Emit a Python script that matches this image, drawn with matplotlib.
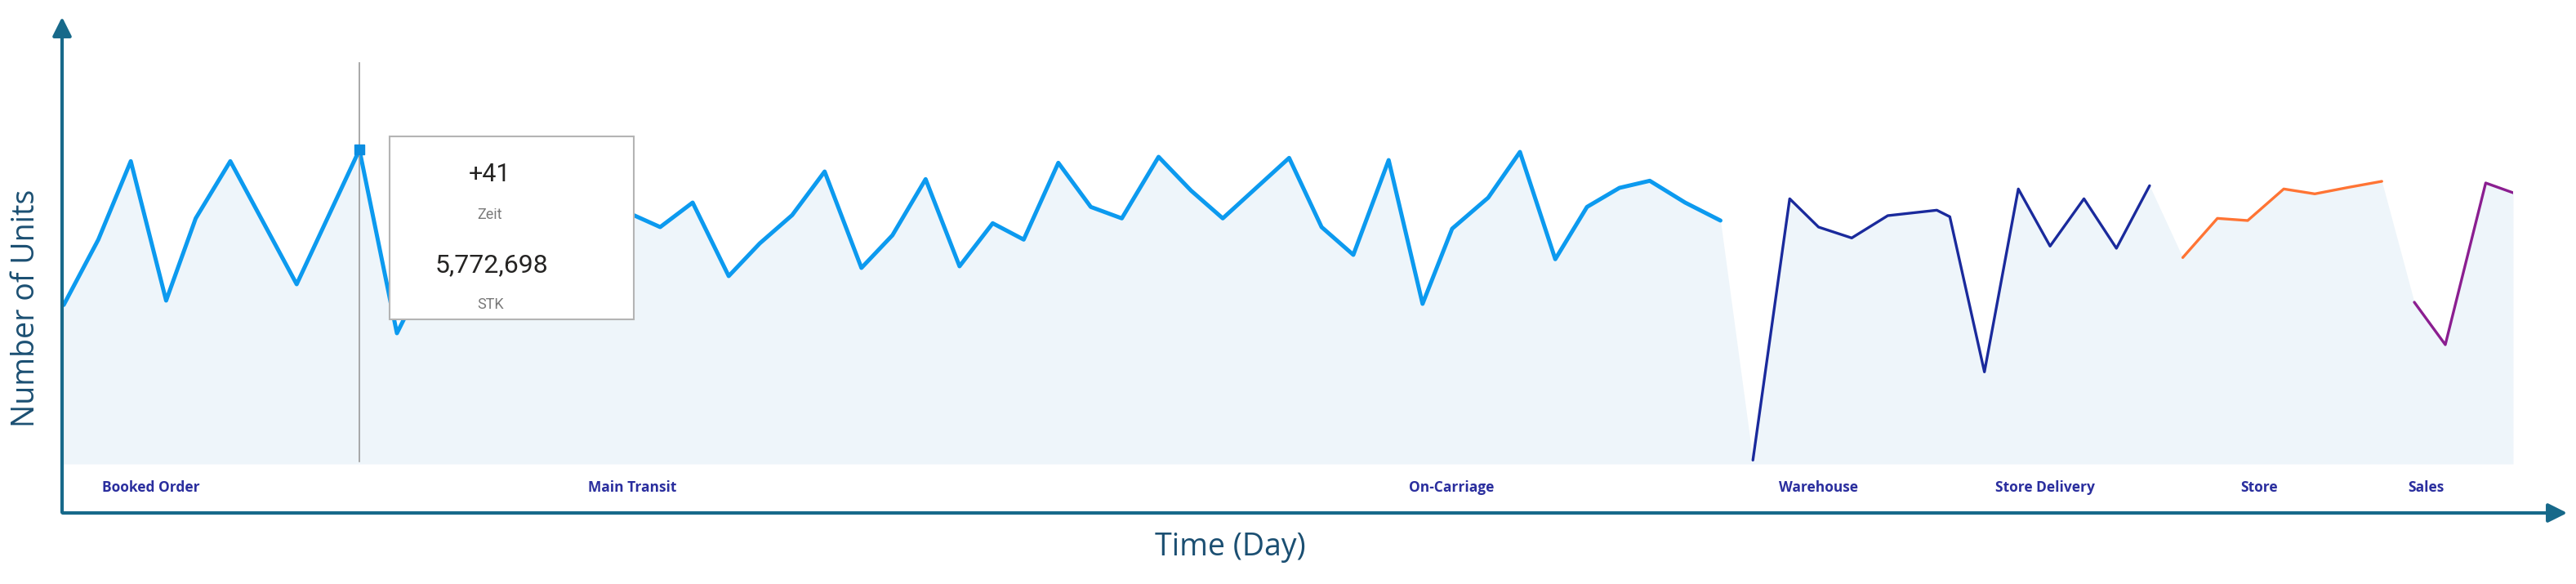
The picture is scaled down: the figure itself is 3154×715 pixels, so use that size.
import numpy as np
import matplotlib.pyplot as plt

# days / units (millions) per stage
transit_days = [0, 4.8, 9.3, 14.2, 18.3, 23.1, 32.3, 41.0, 46.2, 52.3, 61.4, 70.4,
                79.0, 82.7, 87.2, 92.2, 96.5, 101.0, 105.5, 110.6, 114.9, 119.5,
                124.2, 128.8, 133.1, 137.9, 142.4, 146.7, 151.8, 156.3, 160.7,
                169.9, 174.4, 178.8, 183.7, 188.4, 192.5, 197.5, 201.9, 206.8,
                211.2, 215.7, 219.9, 224.8, 229.7]
transit_vals = [2.92, 4.12, 5.56, 3.00, 4.51, 5.56, 3.30, 5.77, 2.40, 4.02, 4.77, 4.17,
                4.57, 4.35, 4.80, 3.45, 4.05, 4.57, 5.37, 3.60, 4.20, 5.23,
                3.63, 4.42, 4.12, 5.53, 4.72, 4.51, 5.64, 5.02, 4.51,
                5.62, 4.35, 3.84, 5.58, 2.94, 4.32, 4.89, 5.73, 3.76,
                4.72, 5.07, 5.20, 4.80, 4.47]

warehouse_days = [234.2, 239.3, 243.3, 247.9, 252.9, 259.7, 261.5, 266.3, 271.0,
                  275.4, 280.1, 284.6, 289.2]
warehouse_vals = [0.07, 4.87, 4.35, 4.15, 4.56, 4.66, 4.54, 1.69, 5.05,
                  4.00, 4.87, 3.96, 5.11]

store_days = [293.8, 298.6, 302.8, 307.8, 312.1, 316.8, 321.4]
store_vals = [3.79, 4.51, 4.47, 5.05, 4.96, 5.08, 5.19]

sales_days = [325.9, 330.2, 335.8, 339.6]
sales_vals = [2.97, 2.19, 5.16, 4.98]

stages = ['Booked Order', 'Main Transit', 'On-Carriage', 'Warehouse',
          'Store Delivery', 'Store', 'Sales']
stage_start = [5.3, 72.7, 186.5, 237.8, 267.8, 301.8, 325.0]

hover_day = 41
hover_val = 5.772698

W, H = 3154, 715
fig = plt.figure(figsize=(W / 100, H / 100), dpi=100)

# data axes placed in pixel box (78..3077, 150..568)
ax = fig.add_axes([78 / W, (H - 568) / H, (3077 - 78) / W, (568 - 150) / H])
ax.patch.set_alpha(0)
ax.axis('off')

all_d = transit_days + warehouse_days + store_days + sales_days
all_v = transit_vals + warehouse_vals + store_vals + sales_vals
ax.fill_between(all_d, 0, all_v, color='#EEF5FA', lw=0)

kw = dict(solid_capstyle='round', solid_joinstyle='round')
ax.plot(transit_days, transit_vals, color='#0C9AEF', lw=3.6, **kw)
ax.plot(warehouse_days, warehouse_vals, color='#1A2A9C', lw=2.4, **kw)
ax.plot(store_days, store_vals, color='#FF7434', lw=2.4, **kw)
ax.plot(sales_days, sales_vals, color='#8B1E90', lw=2.4, **kw)
ax.set_xlim(all_d[0], all_d[-1])
ax.set_ylim(0, 6.27)

# hover line + marker
ax.plot([hover_day, hover_day], [0.05, 7.36], color='#9A9A9A', lw=1.2, clip_on=False)
ax.plot([hover_day], [hover_val], 's', color='#0C8DE0', ms=8, clip_on=False)

# stage labels under the area
for name, d in zip(stages, stage_start):
    ax.text(d, -0.43, name, ha='left', va='center', fontsize=12.5, fontweight='bold',
            color='#2A2E9E', family='Open Sans')

# overlay in pixel coords for arrows and tooltip
ov = fig.add_axes([0, 0, 1, 1])
ov.patch.set_alpha(0)
ov.set_xlim(0, W)
ov.set_ylim(H, 0)
ov.axis('off')

axc = '#17698A'
ov.annotate('', xy=(76, 18), xytext=(76, 630),
            arrowprops=dict(arrowstyle='-|>', lw=3, color=axc, mutation_scale=35))
ov.annotate('', xy=(3146, 628), xytext=(74, 628),
            arrowprops=dict(arrowstyle='-|>', lw=3, color=axc, mutation_scale=35))

ov.text(32, 377, 'Number of Units', rotation=90, ha='center', va='center',
        fontsize=27, color='#1B4F72', family='Open Sans')
ov.text(1506, 670, 'Time (Day)', ha='center', va='center',
        fontsize=27, color='#1B4F72', family='Open Sans')

# tooltip
box = plt.Rectangle((477, 167), 299, 224, facecolor='white', edgecolor='#B4B4B4', lw=1.5)
ov.add_patch(box)
ov.text(600, 214, '+41', ha='center', va='center', fontsize=22, color='#252423', family='Roboto')
ov.text(600, 263, 'Zeit', ha='center', va='center', fontsize=13, color='#7A7A7A', family='Roboto')
ov.text(602, 325, '{:,}'.format(int(round(hover_val * 1e6))), ha='center', va='center',
        fontsize=23, color='#252423', family='Roboto')
ov.text(601, 373, 'STK', ha='center', va='center', fontsize=13, color='#7A7A7A', family='Roboto')

fig.savefig('out.png', dpi=100, facecolor='white')
